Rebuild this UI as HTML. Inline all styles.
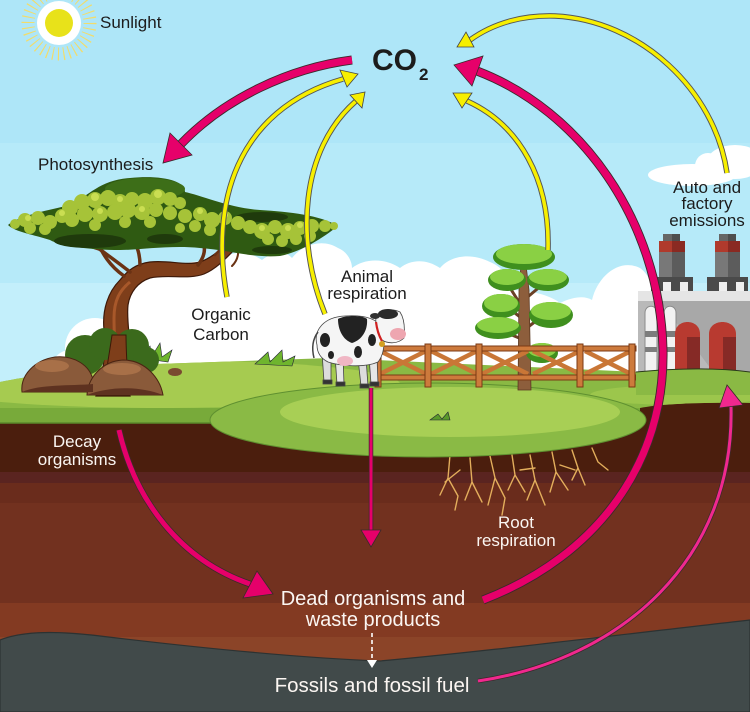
<!DOCTYPE html>
<html><head><meta charset="utf-8"><style>
html,body{margin:0;padding:0;width:750px;height:712px;overflow:hidden;background:#aee6f8}
svg{display:block}
</style></head><body>
<svg width="750" height="712" viewBox="0 0 750 712" xmlns="http://www.w3.org/2000/svg" font-family="'Liberation Sans', Arial, sans-serif">
<defs>
<clipPath id="gclip"><path d="M0,382 C30,376 60,372 100,366 L330,358 L640,372 L750,372 L750,403 C700,402 660,404 640,408 L640,423 L0,423 Z"/></clipPath>
</defs>
<!-- sky -->
<rect width="750" height="143" fill="#aee6f8"/>
<rect y="143" width="750" height="140" fill="#b6eaf9"/>
<rect y="283" width="750" height="130" fill="#c3effb"/>
<!-- sun -->
<circle cx="59" cy="23" r="31" fill="none" stroke="#f3dc6a" stroke-width="13" stroke-dasharray="1.1 4.3"/>
<circle cx="59" cy="23" r="22" fill="#ffffff"/>
<circle cx="59" cy="23" r="14" fill="#e8e21a"/>
<!-- clouds -->
<g fill="#ffffff">
<ellipse cx="692" cy="175" rx="44" ry="11"/>
<ellipse cx="735" cy="162" rx="28" ry="17"/>
<circle cx="708" cy="166" r="13"/>
<path d="M120,385 L120,300 C125,280 150,268 170,273 C180,262 200,258 215,265 C225,252 245,248 262,260 C272,252 285,250 292,258 C302,245 322,238 338,248 C348,252 352,262 352,268 C365,258 385,258 400,268 C410,260 425,258 440,268 C450,256 470,252 490,262 C505,268 510,280 510,290 C530,290 550,295 560,303 C575,296 585,296 592,300 C598,275 620,258 640,268 C650,275 655,290 650,300 L750,300 L750,385 Z"/>
<circle cx="95" cy="348" r="30"/>
<circle cx="70" cy="368" r="18"/>
</g>
<!-- soil -->
<rect y="400" width="750" height="312" fill="#4b1e0d"/>
<rect y="472" width="750" height="11" fill="#5a2420"/>
<rect y="483" width="750" height="20" fill="#6a2c1c"/>
<rect y="503" width="750" height="100" fill="#72311f"/>
<rect y="603" width="750" height="34" fill="#833a22"/>
<rect y="637" width="750" height="75" fill="#8b4428"/>
<path d="M0,640 C20,632 50,630 100,636 C200,648 300,658 380,661 C480,652 600,637 750,620 L750,712 L0,712 Z" fill="#414a4a" stroke="#2c3232" stroke-width="1.2"/>
<!-- roots -->
<g stroke="#e3ae5c" stroke-width="1.4" fill="none" stroke-linecap="round">
<path d="M450,455 L448,478 L440,495 M448,478 L458,496 L455,510"/>
<path d="M470,458 L472,482 L465,500 M472,482 L482,502"/>
<path d="M490,456 L495,478 L488,505 M495,478 L505,498 L502,515"/>
<path d="M512,455 L515,475 L525,492 M515,475 L508,490"/>
<path d="M530,455 L535,480 L545,505 M535,480 L527,500"/>
<path d="M552,452 L556,472 L568,490 M556,472 L550,492"/>
<path d="M572,450 L578,468 L585,485 M578,468 L572,480"/>
<path d="M592,448 L598,462 L608,470"/>
<path d="M460,470 L445,482 M520,470 L535,468 M560,465 L575,470"/>
</g>
<!-- green ground -->
<path d="M0,382 C30,376 60,372 100,366 L330,358 L640,372 L750,372 L750,403 C700,402 660,404 640,408 L640,423 L0,423 Z" fill="#8ab944"/>
<g clip-path="url(#gclip)">
<rect x="0" y="408" width="640" height="17" fill="#78aa3a"/>
<ellipse cx="160" cy="384" rx="240" ry="24" fill="#a6cb50"/>
<ellipse cx="680" cy="395" rx="90" ry="10" fill="#9cc64c"/>
</g>
<path d="M0,423 L215,423" stroke="#5b8a2a" stroke-width="1.5"/>
<ellipse cx="428" cy="420" rx="218" ry="37" fill="#8aba45" stroke="#5f9030" stroke-width="1"/>
<ellipse cx="450" cy="412" rx="170" ry="25" fill="#a8cf55"/>
<!-- grass tufts -->
<g fill="#6fb52e" stroke="#223" stroke-width="0.6">
<path d="M140,358 L150,346 L152,356 L160,343 L162,357 L172,350 L168,362 Z"/>
<path d="M255,364 L268,352 L270,362 L282,350 L283,362 L295,356 L292,366 Z"/>
<path d="M640,372 L648,360 L652,370 L660,360 L662,372 L672,366 L670,376 Z"/>
<path d="M430,420 L438,414 L442,419 L448,412 L450,420 Z" fill="#5a9a2a"/>
</g>
<!-- acacia trunk -->
<path d="M96,396 C104,372 106,350 104,330 C102,310 108,292 120,280 C128,270 136,264 150,262 C170,260 185,266 200,262 C212,258 222,248 232,240 L238,246 C228,256 218,268 204,274 C188,280 168,274 150,278 C138,282 130,292 128,305 C126,322 132,345 130,365 C129,380 128,390 130,396 Z" fill="#7e3e1a" stroke="#3c1808" stroke-width="1.2"/>
<path d="M112,385 C116,360 114,335 114,318 C114,300 120,290 130,282" stroke="#a8582a" stroke-width="3" fill="none"/>
<g stroke="#6a3214" stroke-width="3.5" fill="none" stroke-linecap="round">
<path d="M130,272 C115,260 100,250 85,238"/>
<path d="M124,276 C110,266 102,254 96,238"/>
<path d="M140,265 C140,252 136,242 128,232"/>
<path d="M198,265 C208,252 206,242 194,232"/>
<path d="M232,242 C250,238 265,238 282,246" stroke-width="3"/>
<path d="M215,255 C228,240 242,232 258,226" stroke-width="2.5"/>
<path d="M236,244 C240,252 238,260 232,266" stroke-width="2"/>
<path d="M100,250 L68,240" stroke-width="2"/>
</g>
<!-- canopy -->
<path d="M8,225 C20,215 50,210 70,205 C90,195 100,180 130,178 C160,175 185,180 185,192 C200,195 230,208 260,210 C290,212 320,215 338,226 C320,240 300,252 280,256 C250,258 230,250 200,248 C170,245 140,250 120,250 C90,250 60,246 50,240 C35,235 15,232 8,225Z" fill="#2f5a12"/>
<ellipse cx="145" cy="189" rx="40" ry="11" fill="#3d6e18"/>
<g fill="#1f3a0c">
<ellipse cx="90" cy="241" rx="36" ry="7"/>
<ellipse cx="165" cy="239" rx="18" ry="5"/>
<ellipse cx="262" cy="217" rx="26" ry="5"/>
<ellipse cx="272" cy="250" rx="20" ry="4"/>
</g>
<g fill="#a6c338">
<circle cx="15" cy="224" r="5"/><circle cx="25" cy="220" r="7"/><circle cx="38" cy="218" r="7"/><circle cx="50" cy="222" r="7"/><circle cx="62" cy="216" r="7"/><circle cx="30" cy="228" r="6"/><circle cx="45" cy="229" r="6"/>
<circle cx="70" cy="208" r="8"/><circle cx="82" cy="202" r="8"/><circle cx="95" cy="200" r="8"/><circle cx="108" cy="198" r="8"/><circle cx="120" cy="202" r="8"/><circle cx="132" cy="199" r="7"/><circle cx="145" cy="201" r="8"/><circle cx="158" cy="197" r="8"/><circle cx="170" cy="199" r="7"/><circle cx="180" cy="203" r="6"/>
<circle cx="72" cy="220" r="7"/><circle cx="85" cy="214" r="8"/><circle cx="100" cy="214" r="8"/><circle cx="115" cy="212" r="8"/><circle cx="128" cy="210" r="8"/><circle cx="142" cy="212" r="8"/><circle cx="156" cy="210" r="7"/><circle cx="95" cy="225" r="6"/><circle cx="125" cy="222" r="6"/><circle cx="150" cy="222" r="6"/>
<circle cx="170" cy="213" r="7"/><circle cx="185" cy="216" r="7"/><circle cx="200" cy="214" r="7"/><circle cx="212" cy="220" r="8"/><circle cx="225" cy="218" r="7"/><circle cx="238" cy="223" r="7"/><circle cx="195" cy="226" r="6"/><circle cx="210" cy="230" r="6"/><circle cx="180" cy="228" r="5"/>
<circle cx="250" cy="227" r="7"/><circle cx="262" cy="231" r="8"/><circle cx="275" cy="227" r="7"/><circle cx="288" cy="231" r="8"/><circle cx="300" cy="228" r="7"/><circle cx="312" cy="226" r="7"/><circle cx="325" cy="226" r="6"/><circle cx="334" cy="226" r="4"/><circle cx="268" cy="239" r="6"/><circle cx="282" cy="241" r="6"/><circle cx="296" cy="239" r="6"/><circle cx="310" cy="236" r="6"/>
</g>
<g fill="#cade52">
<circle cx="28" cy="218" r="3"/><circle cx="62" cy="213" r="3"/><circle cx="95" cy="197" r="4"/><circle cx="120" cy="199" r="3"/><circle cx="158" cy="194" r="4"/><circle cx="100" cy="211" r="3"/><circle cx="142" cy="209" r="3"/><circle cx="200" cy="211" r="3"/><circle cx="225" cy="215" r="3"/><circle cx="262" cy="228" r="3"/><circle cx="300" cy="225" r="3"/><circle cx="288" cy="228" r="3"/>
</g>
<!-- bush & rocks -->
<g fill="#3b6a1c">
<circle cx="85" cy="355" r="20"/><circle cx="105" cy="344" r="16"/><circle cx="132" cy="346" r="17"/><circle cx="146" cy="360" r="13"/>
</g>
<path d="M104,392 C106,370 110,350 112,335 L126,335 C126,355 128,375 128,392 Z" fill="#7e3e1a" stroke="#3c1808" stroke-width="1"/>
<path d="M22,392 C20,375 35,360 55,357 C75,355 90,366 93,380 L93,392 Z" fill="#8a5a3a" stroke="#4a2412" stroke-width="1"/>
<path d="M87,395 C88,377 103,361 123,360 C145,360 160,378 163,395 Z" fill="#8a5a3a" stroke="#4a2412" stroke-width="1"/>
<path d="M22,392 C40,384 70,386 93,384 L93,392 Z M87,395 C110,386 140,386 163,395 Z" fill="#5e3220"/>
<ellipse cx="52" cy="366" rx="17" ry="6" fill="#a87048"/>
<ellipse cx="122" cy="369" rx="19" ry="6" fill="#a87048"/>
<ellipse cx="175" cy="372" rx="7" ry="4" fill="#7a4a30"/>
<!-- right tree -->
<g stroke="#6a4026" stroke-width="3" fill="none">
<path d="M524,320 L498,300"/><path d="M524,300 L548,280"/><path d="M524,310 L505,280"/><path d="M524,330 L548,312"/><path d="M524,340 L495,328"/><path d="M524,355 L540,350"/>
</g>
<path d="M518,390 L519,290 L521,265 L526,265 L529,290 L531,390 Z" fill="#8d5e3c" stroke="#5a3820" stroke-width="0.8"/>
<g fill="#3f8f1e">
<ellipse cx="524" cy="257" rx="31" ry="13"/>
<ellipse cx="507" cy="280" rx="19" ry="11"/>
<ellipse cx="548" cy="280" rx="21" ry="11"/>
<ellipse cx="501" cy="306" rx="19" ry="12"/>
<ellipse cx="551" cy="315" rx="22" ry="13"/>
<ellipse cx="498" cy="328" rx="23" ry="11"/>
<ellipse cx="542" cy="353" rx="16" ry="10"/>
</g>
<g fill="#8ad044">
<ellipse cx="524" cy="254" rx="28" ry="10"/>
<ellipse cx="507" cy="277" rx="17" ry="8"/>
<ellipse cx="548" cy="277" rx="19" ry="8"/>
<ellipse cx="501" cy="303" rx="17" ry="9"/>
<ellipse cx="551" cy="311" rx="20" ry="9"/>
<ellipse cx="498" cy="325" rx="21" ry="8"/>
<ellipse cx="542" cy="350" rx="14" ry="7"/>
</g>
<!-- fence -->
<g fill="#cd7a3c" stroke="#7b3a14" stroke-width="1">
<g stroke-width="4.5" stroke="#c97636">
<path d="M380,351 L426,374 M380,374 L426,351 M431,351 L477,374 M431,374 L477,351 M482,351 L528,374 M482,374 L528,351 M533,351 L580,374 M533,374 L580,351 M585,351 L631,374 M585,374 L631,351"/>
</g>
<rect x="372" y="346" width="264" height="5"/>
<rect x="372" y="375" width="264" height="5"/>
<rect x="375" y="344" width="6" height="43"/>
<rect x="425" y="344" width="6" height="43"/>
<rect x="476" y="344" width="6" height="43"/>
<rect x="577" y="344" width="6" height="43"/>
<rect x="629" y="344" width="6" height="43"/>
</g>
<!-- cow -->
<g stroke="#444" stroke-width="0.8">
<path d="M322,352 L324,382 L331,382 L331,355 Z" fill="#dcdcdc"/>
<path d="M335,355 L337,384 L344,384 L343,356 Z" fill="#e6e6e6"/>
<path d="M358,358 L361,386 L368,386 L366,358 Z" fill="#dcdcdc"/>
<path d="M369,356 L371,384 L378,384 L377,356 Z" fill="#e6e6e6"/>
<g fill="#333"><rect x="323" y="380" width="9" height="4"/><rect x="336" y="382" width="9" height="4"/><rect x="360" y="384" width="9" height="4"/><rect x="370" y="382" width="9" height="4"/></g>
<path d="M317,345 C313,330 324,317 345,316 C360,315 375,317 382,327 C386,340 384,355 378,362 C365,368 340,366 328,362 C320,358 317,352 317,345 Z" fill="#f5f5f5"/>
<path d="M318,332 C312,340 312,350 314,358" fill="none" stroke="#444" stroke-width="1.5"/>
</g>
<ellipse cx="345" cy="361" rx="8" ry="5" fill="#f0b6c4"/>
<g fill="#222">
<path d="M338,319 C345,315 362,315 367,319 C368,330 362,340 352,343 C343,340 338,330 338,319 Z"/>
<ellipse cx="325" cy="340" rx="5" ry="7"/>
<ellipse cx="358" cy="352" rx="4" ry="6"/>
<ellipse cx="372" cy="340" rx="4" ry="6"/>
<ellipse cx="331" cy="355" rx="3" ry="4"/>
</g>
<path d="M376,318 C378,310 392,308 400,312 C404,318 405,328 404,338 C398,344 388,344 382,340 C378,333 375,325 376,318 Z" fill="#f5f5f5" stroke="#444" stroke-width="0.8"/>
<ellipse cx="388" cy="314" rx="10" ry="5" fill="#2a2a2a"/>
<ellipse cx="375" cy="316" rx="5" ry="3" fill="#333"/>
<ellipse cx="398" cy="334" rx="8" ry="6" fill="#eea6b0"/>
<path d="M376,322 C377,330 379,336 382,341" stroke="#d02020" stroke-width="2.2" fill="none"/>
<circle cx="382" cy="344" r="3" fill="#d4a020"/>
<!-- factory -->
<rect x="638" y="291" width="112" height="10" fill="#e5e5e5"/>
<rect x="638" y="301" width="112" height="80" fill="#b9b9b9"/>
<path d="M660,301 L750,301 L750,381 L720,381 Z" fill="#a8a8a8"/>
<g>
<rect x="651" y="277" width="42" height="14" fill="#4a4a4a"/>
<rect x="663" y="282" width="8" height="9" fill="#efefef"/><rect x="680" y="282" width="8" height="9" fill="#efefef"/>
<rect x="659" y="252" width="13" height="25" fill="#787878"/><rect x="672" y="252" width="13" height="25" fill="#5c5c5c"/>
<rect x="659" y="241" width="13" height="11" fill="#b03a2c"/><rect x="672" y="241" width="13" height="11" fill="#8a2a22"/>
<rect x="663" y="234" width="9" height="7" fill="#666"/><rect x="672" y="234" width="8" height="7" fill="#4e4e4e"/>
<rect x="707" y="277" width="41" height="14" fill="#4a4a4a"/>
<rect x="719" y="282" width="8" height="9" fill="#efefef"/><rect x="736" y="282" width="8" height="9" fill="#efefef"/>
<rect x="715" y="252" width="13" height="25" fill="#787878"/><rect x="728" y="252" width="12" height="25" fill="#5c5c5c"/>
<rect x="715" y="241" width="13" height="11" fill="#b03a2c"/><rect x="728" y="241" width="12" height="11" fill="#8a2a22"/>
<rect x="719" y="234" width="9" height="7" fill="#666"/><rect x="728" y="234" width="8" height="7" fill="#4e4e4e"/>
</g>
<g fill="#f2f2f2" stroke="#8a8a8a" stroke-width="1">
<path d="M645,372 L645,313 C645,304 657,304 657,313 L657,372 Z"/>
<path d="M664,372 L664,313 C664,304 676,304 676,313 L676,372 Z"/>
</g>
<g fill="#7d7d7d"><rect x="645" y="331" width="12" height="6"/><rect x="645" y="347" width="12" height="5"/><rect x="664" y="331" width="12" height="6"/><rect x="664" y="347" width="12" height="5"/></g>
<path d="M675,381 L675,334 C675,318 700,318 700,334 L700,381 Z" fill="#b83a30"/>
<rect x="687" y="337" width="13" height="44" fill="#862a26"/>
<path d="M709,381 L709,334 C709,318 736,318 736,334 L736,381 Z" fill="#b83a30"/>
<rect x="723" y="337" width="13" height="44" fill="#862a26"/>
<path d="M636,372 C680,368 720,368 750,372 L750,395 L636,395 Z" fill="#8ab944"/>
<path d="M636,372 C680,368 720,368 750,372" stroke="#2a3a1a" stroke-width="1" fill="none"/>
<!-- ARROWS -->
<g fill="none" stroke-linecap="butt">
<g stroke="#555" stroke-width="5.5">
<path d="M227,297 C210,205 235,110 343,79"/>
<path d="M325,314 C295,240 300,150 356,101"/>
<path d="M548,250 C550,180 520,125 467,101"/>
<path d="M727,173 C715,90 640,20 555,16 C525,15 495,22 470,40"/>
</g>
<g stroke="#f7ef00" stroke-width="3.6">
<path d="M227,297 C210,205 235,110 343,79"/>
<path d="M325,314 C295,240 300,150 356,101"/>
<path d="M548,250 C550,180 520,125 467,101"/>
<path d="M727,173 C715,90 640,20 555,16 C525,15 495,22 470,40"/>
</g>
<g stroke="#3a2a2a">
<path d="M352,60 C290,68 225,98 181,144" stroke-width="9"/>
<path d="M483,600 C600,555 665,460 663,350 C660,220 580,110 477,71" stroke-width="9"/>
<path d="M119,430 C135,500 180,560 250,584" stroke-width="6.5"/>
<path d="M371,388 L371,531" stroke-width="4.5"/>
<path d="M478,681 C620,660 735,560 731,406" stroke-width="4.5"/>
</g>
<g stroke="#e6006a">
<path d="M352,60 C290,68 225,98 181,144" stroke-width="7.2"/>
<path d="M483,600 C600,555 665,460 663,350 C660,220 580,110 477,71" stroke-width="7.2"/>
<path d="M119,430 C135,500 180,560 250,584" stroke-width="5"/>
<path d="M371,388 L371,531" stroke-width="3"/>
</g>
<path d="M478,681 C620,660 735,560 731,406" stroke="#f0288e" stroke-width="3"/>
<path d="M372,633 L372,661" stroke="#ffffff" stroke-width="1.6" stroke-dasharray="4 3"/>
</g>
<g stroke="#444" stroke-width="0.8" stroke-linejoin="miter">
<polygon points="358,74 340,70 347,87" fill="#f7ef00"/>
<polygon points="365,92 350,95 362,108" fill="#f7ef00"/>
<polygon points="453,93 472,93 462,108" fill="#f7ef00"/>
<polygon points="457,47 466,32 474,47" fill="#f7ef00"/>
<polygon points="163,163 170,133 192,155" fill="#e6006a" stroke="#3a2a2a"/>
<polygon points="454,65 483,56 472,86" fill="#e6006a" stroke="#3a2a2a"/>
<polygon points="273,594 243,598 257,571" fill="#e6006a" stroke="#3a2a2a"/>
<polygon points="361,530 381,530 371,547" fill="#e6006a" stroke="#3a2a2a"/>
<polygon points="727,385 719,408 743,405" fill="#f0288e" stroke="#3a2a2a"/>
</g>
<polygon points="367,660 377,660 372,668" fill="#ffffff"/>
<!-- TEXT -->
<g fill="#1c1c1c" font-size="17">
<text x="100" y="28">Sunlight</text>
<text x="38" y="170">Photosynthesis</text>
<text x="221" y="320" text-anchor="middle">Organic</text>
<text x="221" y="340" text-anchor="middle">Carbon</text>
<text x="367" y="282" text-anchor="middle">Animal</text>
<text x="367" y="299" text-anchor="middle">respiration</text>
<text x="707" y="193" text-anchor="middle">Auto and</text>
<text x="707" y="209" text-anchor="middle">factory</text>
<text x="707" y="226" text-anchor="middle">emissions</text>
<text x="372" y="70" font-size="30" font-weight="bold">CO</text>
<text x="419" y="80" font-size="17" font-weight="bold">2</text>
</g>
<g fill="#fbf6f2" font-size="17">
<text x="77" y="447" text-anchor="middle">Decay</text>
<text x="77" y="465" text-anchor="middle">organisms</text>
<text x="516" y="528" text-anchor="middle">Root</text>
<text x="516" y="546" text-anchor="middle">respiration</text>
<text x="373" y="605" text-anchor="middle" font-size="20">Dead organisms and</text>
<text x="373" y="626" text-anchor="middle" font-size="20">waste products</text>
<text x="372" y="692" text-anchor="middle" font-size="20.5">Fossils and fossil fuel</text>
</g>
</svg>
</body></html>
